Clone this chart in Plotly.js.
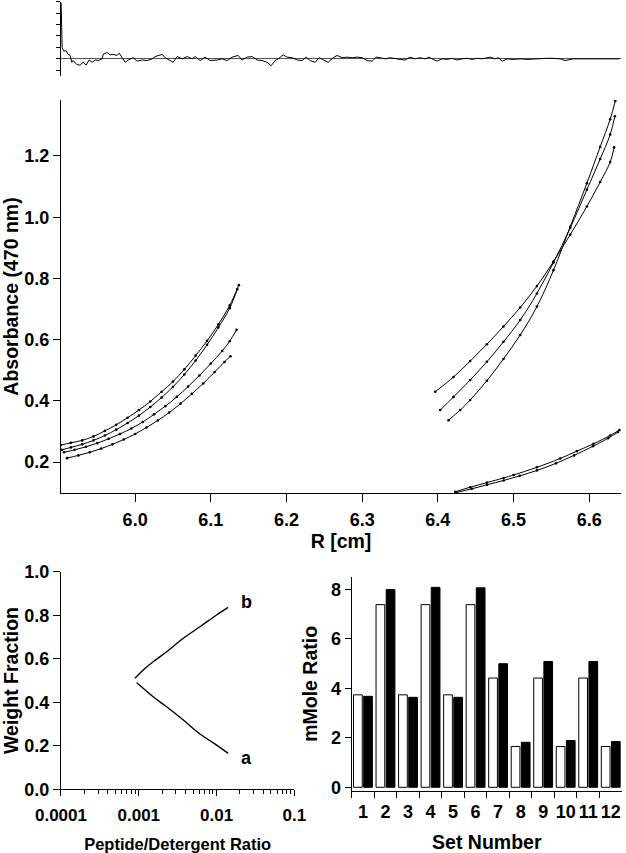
<!DOCTYPE html>
<html><head><meta charset="utf-8">
<script src="https://cdn.plot.ly/plotly-3.0.1.min.js"></script>
<style>html,body{margin:0;padding:0;background:#fff;}#chart{width:626px;height:853px;}</style>
</head><body><div id="chart"></div>
<script>
// ---------- residuals (top panel) ----------
const resR = [5.9022,5.9035,5.9055,5.9088,5.9115,5.9141,5.9163,5.9181,5.9230,5.9273,5.9313,5.9352,5.9392,5.9432,5.9471,5.9511,5.9564,5.9577,5.9630,5.9670,5.9709,5.9762,5.9789,5.9828,5.9868,5.9907,5.9974,6.0026,6.0093,6.0159,6.0225,6.0264,6.0357,6.0396,6.0463,6.0502,6.0555,6.0621,6.0687,6.0753,6.0793,6.0859,6.0925,6.0991,6.1084,6.1150,6.1216,6.1282,6.1361,6.1414,6.1480,6.1546,6.1612,6.1678,6.1744,6.1797,6.1850,6.1890,6.1956,6.2009,6.2075,6.2141,6.2207,6.2260,6.2313,6.2379,6.2432,6.2484,6.2551,6.2617,6.2669,6.2736,6.2802,6.2868,6.2934,6.3000,6.3066,6.3132,6.3185,6.3238,6.3304,6.3370,6.3436,6.3502,6.3568,6.3634,6.3700,6.3766,6.3832,6.3885,6.3938,6.3991,6.4057,6.4123,6.4189,6.4255,6.4321,6.4387,6.4454,6.4520,6.4586,6.4625,6.4691,6.4757,6.4797,6.4850,6.4916,6.4995,6.5088,6.5180,6.5260,6.5352,6.5445,6.5511,6.5577,6.5617,6.5683,6.5788,6.5921,6.6053,6.6238,6.6396];
const resVal = [4.9,1.0,0.7,0.7,0.4,0.3,-0.3,-0.15,-0.5,-0.55,-0.3,-0.55,-0.1,-0.3,-0.1,-0.15,0,0.4,0.55,0.35,0.4,0.3,0.5,0.15,-0.3,-0.1,0.1,-0.2,-0.1,-0.15,0,0.2,0.4,0.1,-0.15,-0.3,0.2,0,0.2,0,0.2,-0.15,0.15,-0.15,-0.1,0,-0.15,0.15,0.3,-0.1,0.15,0.2,-0.1,-0.15,-0.3,-0.6,-0.15,0,0.35,0.15,0.1,-0.1,-0.15,0.15,-0.15,-0.3,0.1,-0.1,-0.3,0.1,0.3,0.1,0.15,0.1,0.15,0.1,-0.15,-0.2,0.15,0.1,0,0.1,0,-0.05,-0.1,0.15,0,0.1,0,0.15,-0.05,-0.2,0,-0.05,0.05,-0.1,0,0.05,-0.05,0.05,0,0.05,0.15,0,0.1,-0.2,0,-0.05,0,-0.05,0,0,0.05,0.05,0,0,-0.15,0,0,0,0,0,0];

// ---------- absorbance scans (main panel) ----------
const L1_r = [5.902,5.915,5.930,5.945,5.960,5.975,5.990,6.005,6.020,6.035,6.050,6.065,6.080,6.095,6.110,6.125,6.137];
const L1_a = [0.256,0.263,0.271,0.284,0.302,0.322,0.345,0.370,0.398,0.430,0.463,0.503,0.548,0.596,0.650,0.712,0.778];
const L2_r = [5.903,5.915,5.930,5.945,5.960,5.975,5.990,6.005,6.020,6.035,6.050,6.065,6.080,6.095,6.110,6.125,6.135];
const L2_a = [0.240,0.248,0.258,0.271,0.287,0.306,0.328,0.352,0.380,0.411,0.446,0.486,0.532,0.583,0.640,0.703,0.765];
const L3_r = [5.906,5.920,5.935,5.950,5.965,5.980,5.995,6.010,6.025,6.040,6.055,6.070,6.085,6.100,6.115,6.125,6.134];
const L3_a = [0.232,0.240,0.250,0.262,0.276,0.292,0.310,0.331,0.356,0.383,0.413,0.447,0.483,0.522,0.563,0.595,0.632];
const L4_r = [5.910,5.925,5.940,5.955,5.970,5.985,6.000,6.015,6.030,6.045,6.060,6.075,6.090,6.105,6.118,6.126];
const L4_a = [0.213,0.222,0.232,0.244,0.258,0.274,0.292,0.313,0.336,0.362,0.391,0.423,0.457,0.494,0.527,0.546];
const R1_r = [6.3965,6.4207,6.4427,6.4648,6.4867,6.5088,6.5309,6.5528,6.5749,6.5969,6.6145,6.6277,6.6330];
const R1_a = [0.430,0.478,0.530,0.585,0.643,0.705,0.775,0.855,0.943,1.035,1.115,1.180,1.228];
const R2_r = [6.4031,6.4207,6.4427,6.4648,6.4867,6.5088,6.5309,6.5528,6.5749,6.5969,6.6145,6.6277,6.6340];
const R2_a = [0.370,0.413,0.468,0.528,0.593,0.664,0.751,0.852,0.965,1.090,1.190,1.270,1.330];
const R3_r = [6.4141,6.4295,6.4427,6.4648,6.4867,6.5088,6.5309,6.5528,6.5749,6.5969,6.6145,6.6277,6.6345];
const R3_a = [0.337,0.370,0.403,0.466,0.537,0.615,0.708,0.827,0.969,1.111,1.230,1.320,1.380];
const R4_r = [6.4229,6.4427,6.4648,6.4867,6.5000,6.5309,6.5617,6.5837,6.6057,6.6277,6.6400];
const R4_a = [0.103,0.118,0.133,0.148,0.158,0.183,0.212,0.236,0.260,0.287,0.305];
const R5_r = [6.425,6.445,6.465,6.487,6.508,6.531,6.556,6.580,6.605,6.625,6.638];
const R5_a = [0.101,0.113,0.126,0.140,0.155,0.173,0.196,0.222,0.252,0.278,0.298];

// ---------- weight fraction (bottom left) ----------
const ratioB = [0.000893,0.00114,0.00153,0.00228,0.00374,0.00612,0.0100,0.0141];
const fracB  = [0.510,0.548,0.586,0.632,0.694,0.747,0.801,0.836];
const ratioA = [0.00094,0.00114,0.00153,0.00228,0.00374,0.00612,0.0100,0.0141];
const fracA  = [0.490,0.464,0.425,0.379,0.318,0.254,0.203,0.165];
const labelB = {text:'b', ratio:0.0244, frac:0.862};
const labelA = {text:'a', ratio:0.0244, frac:0.142};

// ---------- mMole ratio (bottom right) ----------
const sets = ['1','2','3','4','5','6','7','8','9','10','11','12'];
const whiteVals = [3.74,7.39,3.74,7.39,3.74,7.39,4.42,1.65,4.42,1.65,4.42,1.65];
const blackVals = [3.68,8.00,3.64,8.09,3.64,8.07,5.00,1.82,5.09,1.89,5.09,1.85];

const FONT = 'Liberation Sans, Arial, Helvetica, sans-serif';
const tickF = {family: FONT, size: 18, color: '#000', weight: 700};
const titleF = {family: FONT, size: 19.5, color: '#000', weight: 700};

function scan(r, a) {
  return {x: r, y: a, xaxis: 'x2', yaxis: 'y2', type: 'scatter', mode: 'lines+markers',
    line: {color: '#000', width: 1, shape: 'spline'}, marker: {color: '#000', size: 2.6},
    showlegend: false, hoverinfo: 'skip'};
}

const traces = [
  {x: resR, y: resVal, xaxis: 'x', yaxis: 'y', type: 'scatter', mode: 'lines',
   line: {color: '#000', width: 1}, showlegend: false},
  scan(L1_r, L1_a), scan(L2_r, L2_a), scan(L3_r, L3_a), scan(L4_r, L4_a),
  scan(R1_r, R1_a), scan(R2_r, R2_a), scan(R3_r, R3_a), scan(R4_r, R4_a), scan(R5_r, R5_a),
  {x: ratioB, y: fracB, xaxis: 'x3', yaxis: 'y3', type: 'scatter', mode: 'lines',
   line: {color: '#000', width: 1.4, shape: 'spline'}, showlegend: false},
  {x: ratioA, y: fracA, xaxis: 'x3', yaxis: 'y3', type: 'scatter', mode: 'lines',
   line: {color: '#000', width: 1.4, shape: 'spline'}, showlegend: false},
  {x: sets, y: whiteVals, xaxis: 'x4', yaxis: 'y4', type: 'bar',
   marker: {color: '#fff', line: {color: '#000', width: 1}}, showlegend: false},
  {x: sets, y: blackVals, xaxis: 'x4', yaxis: 'y4', type: 'bar',
   marker: {color: '#000', line: {color: '#000', width: 1}}, showlegend: false}
];

const base = {showline: true, linecolor: '#000', linewidth: 1, ticks: 'outside', tickcolor: '#000',
  tickwidth: 1, showgrid: false, zeroline: false, tickfont: tickF, fixedrange: true, tickangle: 0};

const minorVals = [];
[0.0001, 0.001, 0.01].forEach(d => { for (let k = 2; k <= 9; k++) minorVals.push(+(d * k).toPrecision(3)); });

const layout = {
  width: 626, height: 853, margin: {l: 0, r: 0, t: 0, b: 0},
  paper_bgcolor: '#fff', plot_bgcolor: 'rgba(0,0,0,0)',
  font: {family: FONT, color: '#000'},
  barmode: 'group', bargap: 0.1, bargroupgap: 0.14,
  xaxis: Object.assign({}, base, {domain: [0.0974, 0.992], range: [5.902, 6.642], anchor: 'y',
    visible: false}),
  yaxis: Object.assign({}, base, {domain: [0.9109, 0.998], range: [-1.5, 5.0], anchor: 'x',
    dtick: 1, tick0: 0, ticklen: 4, showticklabels: false,
    zeroline: true, zerolinecolor: '#555', zerolinewidth: 1}),
  xaxis2: Object.assign({}, base, {domain: [0.0974, 0.992], range: [5.902, 6.642], anchor: 'y2',
    tickvals: [6.0, 6.1, 6.2, 6.3, 6.4, 6.5, 6.6], tickformat: '.1f', ticklen: 8, ticklabelstandoff: 2,
    title: {text: 'R [cm]', font: titleF, standoff: 3}}),
  yaxis2: Object.assign({}, base, {domain: [0.422, 0.8828], range: [0.099, 1.383], anchor: 'x2',
    tickvals: [0.2, 0.4, 0.6, 0.8, 1.0, 1.2], tickformat: '.1f', ticklen: 7,
    title: {text: 'Absorbance (470 nm)', font: titleF, standoff: 7}}),
  xaxis3: Object.assign({}, base, {domain: [0.0974, 0.4702], type: 'log', range: [-4, -1], anchor: 'y3',
    tickvals: [0.0001, 0.001, 0.01, 0.1], ticktext: ['0.0001', '0.001', '0.01', '0.1'], ticklen: 6,
    ticklabelstandoff: 4, tickfont: Object.assign({}, tickF, {size: 17}),
    minor: {ticks: 'outside', ticklen: 4, tickcolor: '#000', tickvals: minorVals, showgrid: false},
    title: {text: 'Peptide/Detergent Ratio', font: Object.assign({}, titleF, {size: 16.5}), standoff: 17}}),
  yaxis3: Object.assign({}, base, {domain: [0.0747, 0.3298], range: [0, 1], anchor: 'x3',
    tickvals: [0, 0.2, 0.4, 0.6, 0.8, 1.0], tickformat: '.1f', ticklen: 7,
    title: {text: 'Weight Fraction', font: titleF, standoff: 7}}),
  xaxis4: Object.assign({}, base, {domain: [0.5618, 0.9936], type: 'category', range: [-0.5, 11.5],
    anchor: 'y4', tickson: 'boundaries', ticklen: 6, ticklabelstandoff: 4,
    title: {text: 'Set Number', font: titleF, standoff: 17}}),
  yaxis4: Object.assign({}, base, {domain: [0.0727, 0.3239], range: [-0.15, 8.52], anchor: 'x4',
    tickvals: [0, 2, 4, 6, 8], ticklen: 6,
    title: {text: 'mMole Ratio', font: titleF, standoff: 8}}),
  annotations: [labelB, labelA].map(l => ({xref: 'x3', yref: 'y3', x: Math.log10(l.ratio), y: l.frac,
    text: l.text, showarrow: false, font: {family: FONT, size: 18, color: '#000', weight: 700}}))
};

Plotly.newPlot('chart', traces, layout, {staticPlot: true});
</script></body></html>
